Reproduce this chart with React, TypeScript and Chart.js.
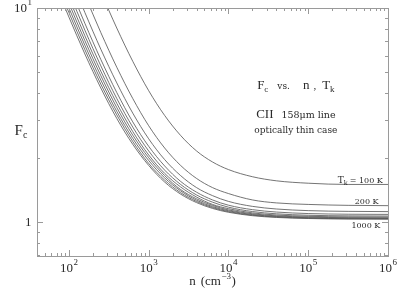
import React, { useEffect, useRef } from 'react';
import { Chart, registerables } from 'chart.js';

Chart.register(...registerables);

// density n (cm^-3)
const DENSITY = [40, 63.1, 100, 158.5, 251.2, 398.1, 631, 1000, 1585, 2512, 3981, 6310, 10000, 19950, 39810, 100000, 316200, 1000000];

// Fc for each kinetic temperature Tk
const TK_100 = [66.85, 42.92, 27.64, 17.99, 11.9, 8.06, 5.64, 4.11, 3.15, 2.54, 2.15, 1.91, 1.76, 1.63, 1.56, 1.52, 1.5, 1.5];
const TK_200 = [41.94, 27.02, 17.49, 11.48, 7.68, 5.29, 3.78, 2.82, 2.22, 1.84, 1.6, 1.45, 1.36, 1.27, 1.23, 1.21, 1.198, 1.194];
const TK_300 = [34.4, 22.24, 14.44, 9.53, 6.42, 4.47, 3.23, 2.45, 1.96, 1.65, 1.45, 1.33, 1.25, 1.185, 1.152, 1.132, 1.123, 1.12];
const TK_400 = [30.4, 19.67, 12.81, 8.48, 5.75, 4.03, 2.94, 2.26, 1.83, 1.55, 1.38, 1.27, 1.2, 1.144, 1.115, 1.097, 1.089, 1.087];
const TK_500 = [28.07, 18.18, 11.87, 7.88, 5.37, 3.78, 2.78, 2.15, 1.75, 1.5, 1.34, 1.24, 1.175, 1.121, 1.094, 1.077, 1.07, 1.068];
const TK_600 = [26.28, 17.04, 11.14, 7.42, 5.07, 3.59, 2.65, 2.06, 1.69, 1.46, 1.31, 1.21, 1.156, 1.105, 1.08, 1.065, 1.058, 1.056];
const TK_700 = [24.78, 16.09, 10.54, 7.04, 4.83, 3.43, 2.55, 2.0, 1.65, 1.42, 1.285, 1.197, 1.141, 1.094, 1.07, 1.056, 1.049, 1.047];
const TK_800 = [23.46, 15.25, 10.01, 6.7, 4.61, 3.29, 2.46, 1.94, 1.61, 1.4, 1.266, 1.182, 1.13, 1.085, 1.063, 1.049, 1.043, 1.041];
const TK_900 = [22.25, 14.48, 9.52, 6.39, 4.41, 3.17, 2.38, 1.88, 1.571, 1.373, 1.249, 1.17, 1.12, 1.078, 1.057, 1.044, 1.038, 1.036];
const TK_1000 = [21.12, 13.76, 9.07, 6.1, 4.23, 3.05, 2.31, 1.84, 1.539, 1.352, 1.234, 1.159, 1.112, 1.072, 1.052, 1.04, 1.034, 1.033];

const SERIES = [TK_100, TK_200, TK_300, TK_400, TK_500, TK_600, TK_700, TK_800, TK_900, TK_1000];
const SERIES_NAMES = ['100 K', '200 K', '300 K', '400 K', '500 K', '600 K', '700 K', '800 K', '900 K', '1000 K'];

// tick labels: mantissa text + exponent text
const X_TICKS = [100, 1000, 10000, 100000, 1000000];
const X_TICK_BASE = ['10', '10', '10', '10', '10'];
const X_TICK_EXP = ['2', '3', '4', '5', '6'];
const Y_TICKS = [1, 10];
const Y_TICK_BASE = ['1', '10'];
const Y_TICK_EXP = ['', '1'];

const X_MIN = 39.8;
const X_MAX = 1000000;
const Y_MIN = 0.695;
const Y_MAX = 10;

const SERIF = '"Liberation Serif", serif';
const SERIF2 = '"DejaVu Serif", serif';
const FRAME = '#9a9a9a';
const INK = '#2a2a2a';

type Part = { t: string; s: number; dy?: number; f?: string; gap?: number };

function partWidth(ctx: CanvasRenderingContext2D, parts: Part[]) {
  let w = 0;
  for (const p of parts) {
    ctx.font = `${p.s}px ${p.f || SERIF}`;
    w += ctx.measureText(p.t).width + (p.gap || 0);
  }
  return w;
}

function drawParts(ctx: CanvasRenderingContext2D, parts: Part[], x: number, y: number, align: 'center' | 'right' | 'left') {
  const w = partWidth(ctx, parts);
  let cx = align === 'center' ? x - w / 2 : align === 'right' ? x - w : x;
  ctx.textAlign = 'left';
  ctx.textBaseline = 'alphabetic';
  for (const p of parts) {
    ctx.font = `${p.s}px ${p.f || SERIF}`;
    ctx.fillText(p.t, cx, y + (p.dy || 0));
    cx += ctx.measureText(p.t).width + (p.gap || 0);
  }
}

const decorPlugin = {
  id: 'decor',
  afterDraw(chart: any) {
    const { ctx, chartArea: a, scales } = chart;
    const xs = scales.x;
    const ys = scales.y;
    ctx.save();
    // frame
    ctx.strokeStyle = FRAME;
    ctx.lineWidth = 1;
    ctx.strokeRect(Math.round(a.left) + 0.5, Math.round(a.top) + 0.5, Math.round(a.right - a.left), Math.round(a.bottom - a.top));
    // x ticks (top and bottom, inward)
    ctx.beginPath();
    for (let d = 1; d <= 6; d++) {
      for (let m = 1; m <= 9; m++) {
        const v = m * Math.pow(10, d);
        if (v < X_MIN || v > X_MAX) continue;
        const px = Math.round(xs.getPixelForValue(v)) + 0.5;
        const len = m === 1 ? 6 : 3;
        ctx.moveTo(px, a.bottom);
        ctx.lineTo(px, a.bottom - len);
        ctx.moveTo(px, a.top);
        ctx.lineTo(px, a.top + len);
      }
    }
    // y ticks (left and right, inward)
    for (let d = -1; d <= 1; d++) {
      for (let m = 1; m <= 9; m++) {
        const v = m * Math.pow(10, d);
        if (v < Y_MIN || v > Y_MAX) continue;
        const py = Math.round(ys.getPixelForValue(v)) + 0.5;
        const len = m === 1 ? 6 : 3;
        ctx.moveTo(a.left, py);
        ctx.lineTo(a.left + len, py);
        ctx.moveTo(a.right, py);
        ctx.lineTo(a.right - len, py);
      }
    }
    ctx.stroke();

    ctx.fillStyle = INK;
    // tick labels
    X_TICKS.forEach((v, i) => {
      const px = xs.getPixelForValue(v);
      drawParts(ctx, [{ t: X_TICK_BASE[i], s: 13, gap: 0.5 }, { t: X_TICK_EXP[i], s: 9, dy: -7 }], px, a.bottom + 16, 'center');
    });
    Y_TICKS.forEach((v, i) => {
      const py = ys.getPixelForValue(v);
      const parts: Part[] = [{ t: Y_TICK_BASE[i], s: 13, gap: 0.5 }];
      if (Y_TICK_EXP[i]) parts.push({ t: Y_TICK_EXP[i], s: 9, dy: -7 });
      drawParts(ctx, parts, a.left - 5, py + 4, 'right');
    });

    // axis titles
    drawParts(ctx, [{ t: 'n', s: 13, gap: 5 }, { t: '(cm', s: 13, gap: 0.5 }, { t: '−3', s: 9, dy: -6, gap: 0.5 }, { t: ')', s: 13 }], (a.left + a.right) / 2, a.bottom + 29, 'center');
    drawParts(ctx, [{ t: 'F', s: 15 }, { t: 'c', s: 10, dy: 3 }], 21, ys.getPixelForValue(2.55), 'center');

    // annotations (anchored in data coordinates)
    const cx = xs.getPixelForValue(70000);
    drawParts(ctx, [
      { t: 'F', s: 13 }, { t: 'c', s: 9, dy: 3, gap: 9 },
      { t: 'vs.', s: 9, f: SERIF2, gap: 13 },
      { t: 'n', s: 13, gap: 4 }, { t: ',', s: 11, gap: 6 },
      { t: 'T', s: 13 }, { t: 'k', s: 9, dy: 3 },
    ], cx, ys.getPixelForValue(4.2), 'center');
    drawParts(ctx, [{ t: 'CII', s: 13, gap: 8 }, { t: '158μm line', s: 9.5, f: SERIF2 }], cx, ys.getPixelForValue(3.08), 'center');
    drawParts(ctx, [{ t: 'optically thin case', s: 9, f: SERIF2 }], cx, ys.getPixelForValue(2.62), 'center');

    drawParts(ctx, [{ t: 'T', s: 9, f: SERIF2 }, { t: 'k', s: 6.5, dy: 2, f: SERIF2, gap: 2 }, { t: '= 100 K', s: 8, f: SERIF2 }], xs.getPixelForValue(860000), ys.getPixelForValue(1.53), 'right');
    drawParts(ctx, [{ t: '200 K', s: 8, f: SERIF2 }], xs.getPixelForValue(760000), ys.getPixelForValue(1.21), 'right');
    drawParts(ctx, [{ t: '1000 K', s: 8, f: SERIF2 }], xs.getPixelForValue(800000), ys.getPixelForValue(0.94), 'right');
    ctx.restore();
  },
};

export default function App() {
  const ref = useRef<HTMLCanvasElement | null>(null);
  useEffect(() => {
    if (!ref.current) return;
    const datasets = SERIES.map((vals, i) => ({
      label: SERIES_NAMES[i],
      data: DENSITY.map((n, j) => ({ x: n, y: vals[j] })),
      borderColor: '#505050',
      borderWidth: 0.8,
      pointRadius: 0,
      fill: false,
      cubicInterpolationMode: 'monotone' as const,
    }));
    const chart = new Chart(ref.current, {
      type: 'line',
      data: { datasets },
      options: {
        animation: false,
        responsive: false,
        devicePixelRatio: 1,
        layout: { padding: { top: 8, right: 9, left: 0, bottom: 0 } },
        plugins: { legend: { display: false }, tooltip: { enabled: false }, title: { display: false } },
        scales: {
          x: {
            type: 'logarithmic',
            min: X_MIN,
            max: X_MAX,
            grid: { display: false, drawTicks: false },
            border: { display: false },
            afterBuildTicks: (s: any) => { s.ticks = X_TICKS.map((v) => ({ value: v })); },
            afterFit: (s: any) => { s.height = 32; },
            ticks: { display: false },
          },
          y: {
            type: 'logarithmic',
            min: Y_MIN,
            max: Y_MAX,
            grid: { display: false, drawTicks: false },
            border: { display: false },
            afterBuildTicks: (s: any) => { s.ticks = Y_TICKS.map((v) => ({ value: v })); },
            afterFit: (s: any) => { s.width = 37; },
            ticks: { display: false },
          },
        },
      },
      plugins: [decorPlugin],
    });
    return () => chart.destroy();
  }, []);
  return (
    <div style={{ position: 'absolute', left: 0, top: 0, width: 397, height: 288, background: '#fff' }}>
      <canvas ref={ref} width={397} height={288} style={{ display: 'block' }} />
    </div>
  );
}
